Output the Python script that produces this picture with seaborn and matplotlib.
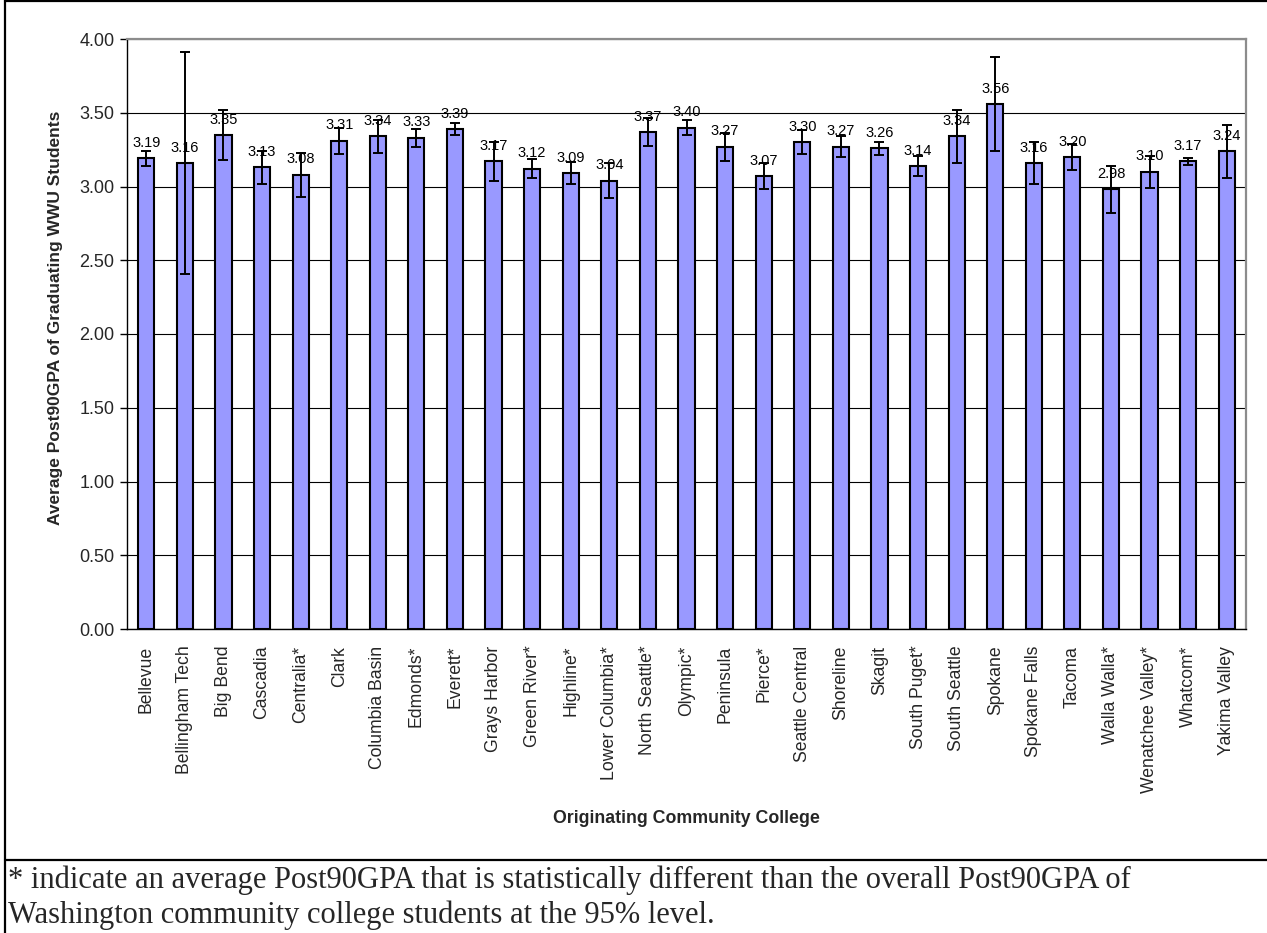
import numpy as np
import pandas as pd
import matplotlib
matplotlib.use("Agg")
import matplotlib.pyplot as plt
from matplotlib.lines import Line2D
from matplotlib.ticker import FixedLocator, FormatStrFormatter
import seaborn as sns

colleges = ["Bellevue", "Bellingham Tech", "Big Bend", "Cascadia", "Centralia*", "Clark",
            "Columbia Basin", "Edmonds*", "Everett*", "Grays Harbor", "Green River*", "Highline*",
            "Lower Columbia*", "North Seattle*", "Olympic*", "Peninsula", "Pierce*", "Seattle Central",
            "Shoreline", "Skagit", "South Puget*", "South Seattle", "Spokane", "Spokane Falls",
            "Tacoma", "Walla Walla*", "Wenatchee Valley*", "Whatcom*", "Yakima Valley"]
gpa = [3.19, 3.16, 3.35, 3.13, 3.08, 3.31, 3.34, 3.33, 3.39, 3.17, 3.12, 3.09, 3.04, 3.37, 3.40,
       3.27, 3.07, 3.30, 3.27, 3.26, 3.14, 3.34, 3.56, 3.16, 3.20, 2.98, 3.10, 3.17, 3.24]
err = [0.05, 0.75, 0.17, 0.11, 0.15, 0.09, 0.11, 0.06, 0.04, 0.13, 0.065, 0.075, 0.12, 0.095, 0.05,
       0.095, 0.09, 0.08, 0.07, 0.045, 0.07, 0.18, 0.32, 0.145, 0.09, 0.16, 0.11, 0.025, 0.18]
yticks = [0.0, 0.5, 1.0, 1.5, 2.0, 2.5, 3.0, 3.5, 4.0]
foot_lines = ["* indicate an average Post90GPA that is statistically different than the overall Post90GPA of",
              "Washington community college students at the 95% level."]

df = pd.DataFrame({"college": colleges, "gpa": gpa, "err": err})

sns.set_style("white")
plt.rcParams["font.family"] = ["Liberation Sans", "DejaVu Sans"]

W, H = 1267, 933
fig = plt.figure(figsize=(W / 100, H / 100), dpi=100)
ax = fig.add_axes([127 / W, 1 - 629 / H, (1246 - 127) / W, (629 - 39) / H])

sns.barplot(data=df, x="college", y="gpa", color="#9999FF", saturation=1,
            edgecolor="black", linewidth=1.5, width=0.42, ax=ax, errorbar=None, zorder=2)

xs = np.arange(len(colleges))
ax.errorbar(xs, df["gpa"], yerr=df["err"], fmt="none", ecolor="black",
            elinewidth=1.4, capsize=3.9, capthick=1.4, zorder=3)

for x, v in zip(xs, gpa):
    ax.annotate(f"{v:.2f}", (x, v), xytext=(0, 6), textcoords="offset points",
                ha="center", va="bottom", fontsize=10.5, color="black", zorder=4)

ax.set_xlim(-0.5, len(colleges) - 0.5)
ax.set_ylim(0, 4.0)
ax.yaxis.set_major_locator(FixedLocator(yticks))
ax.yaxis.set_major_formatter(FormatStrFormatter("%.2f"))
ax.yaxis.grid(True, color="black", linewidth=0.8)
ax.set_axisbelow(True)

ax.set_xticks(xs)
ax.set_xticklabels(colleges, rotation=90, fontsize=12.7)
ax.xaxis.set_minor_locator(FixedLocator(np.arange(-0.5, len(colleges), 1.0)))
ax.tick_params(axis="x", which="major", length=0, pad=12)
ax.tick_params(axis="x", which="minor", length=6, width=1, color="black", direction="out")
ax.tick_params(axis="y", which="major", length=5, width=1, color="black", direction="out",
               labelsize=13, pad=4, left=True)

for s in ["left", "bottom"]:
    ax.spines[s].set_color("black")
    ax.spines[s].set_linewidth(1.0)
for s in ["top", "right"]:
    ax.spines[s].set_visible(True)
    ax.spines[s].set_color("#8c8c8c")
    ax.spines[s].set_linewidth(1.6)

ax.set_ylabel("Average Post90GPA of Graduating WWU Students", fontsize=12.5, fontweight="bold")
ax.yaxis.set_label_coords((56 - 127) / 1119, (629 - 317.5) / 590)
ax.yaxis.label.set_va("center")
ax.set_xlabel("Originating Community College", fontsize=12.8, fontweight="bold")
ax.xaxis.set_label_coords(0.5, (629 - 819) / 590)
ax.xaxis.label.set_va("center")

# outer frame and separator
fig.add_artist(Line2D([5 / W, 5 / W], [0, 1], transform=fig.transFigure, color="black", lw=1.6))
fig.add_artist(Line2D([5 / W, 1], [1 - 1 / H, 1 - 1 / H], transform=fig.transFigure, color="black", lw=1.6))
fig.add_artist(Line2D([5 / W, 1], [1 - 860 / H, 1 - 860 / H], transform=fig.transFigure, color="black", lw=1.6))

for line, base in zip(foot_lines, [888, 923]):
    fig.text(8 / W, 1 - base / H, line, ha="left", va="baseline", fontsize=22,
             family=["Liberation Serif", "DejaVu Serif"])

fig.savefig("out.png", dpi=100)
